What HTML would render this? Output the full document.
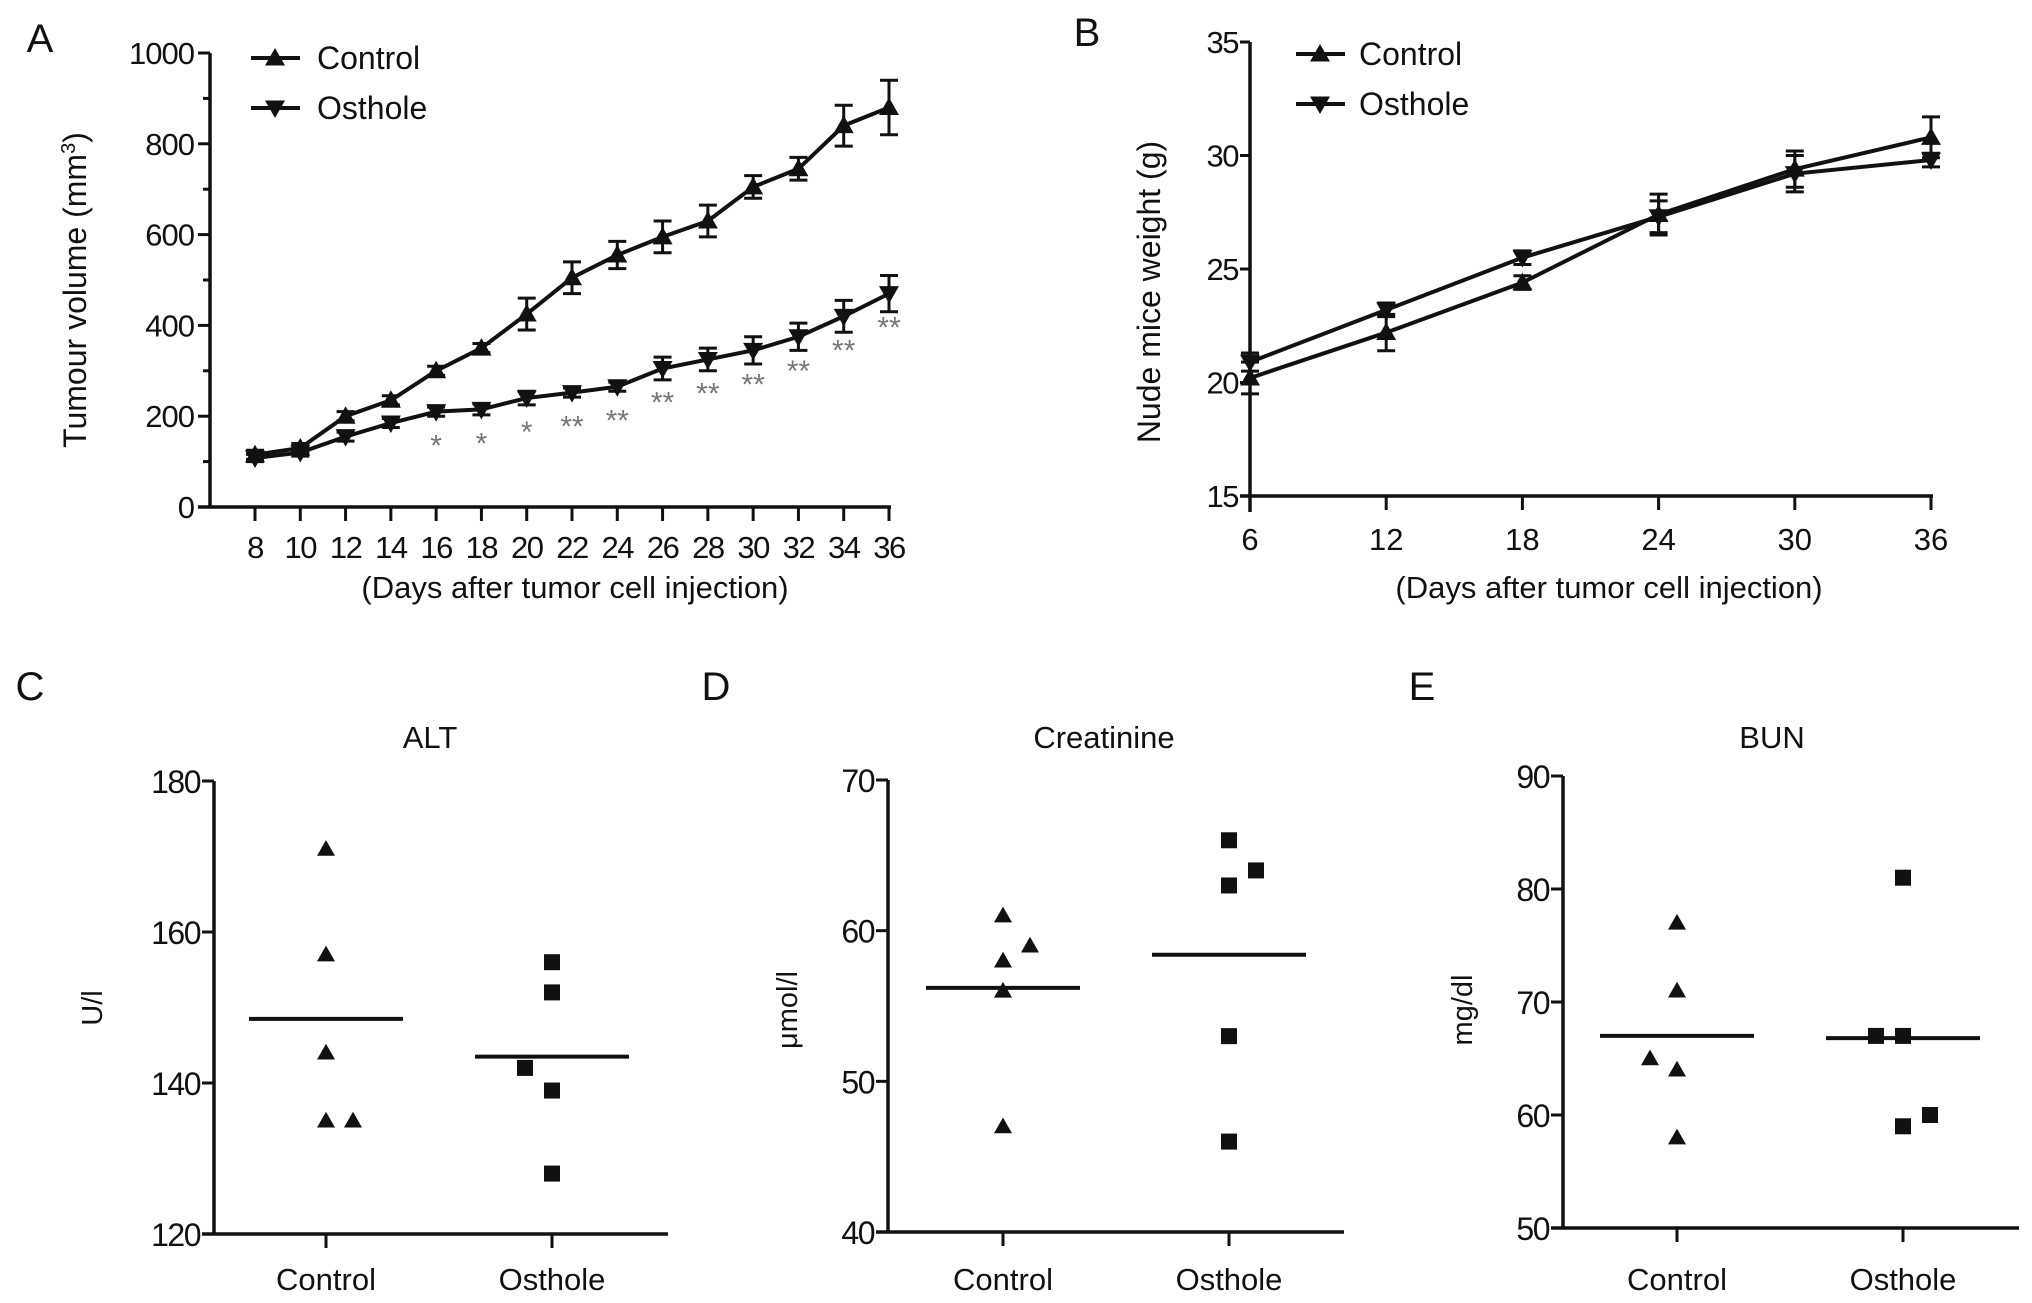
<!DOCTYPE html>
<html><head><meta charset="utf-8"><style>
html,body{margin:0;padding:0;background:#fff;}
svg{display:block;font-family:"Liberation Sans",sans-serif;}
</style></head><body>
<svg id="fig" width="2032" height="1303" viewBox="0 0 2032 1303" xmlns="http://www.w3.org/2000/svg"></svg>
<script>
// Panel A data
const aDays=[8,10,12,14,16,18,20,22,24,26,28,30,32,34,36];
const aControl=[115,130,200,235,300,350,425,505,555,595,630,705,745,840,880];
const aControlErr=[10,10,10,10,10,10,35,35,30,35,35,25,25,45,60];
const aOsthole=[108,120,155,185,210,215,240,252,265,305,325,345,375,420,470];
const aOstholeErr=[8,8,10,10,10,12,15,10,10,25,25,30,30,35,40];
const aStars=["","","","","*","*","*","**","**","**","**","**","**","**","**"];
const aYTicks=[0,200,400,600,800,1000];
// Panel B data
const bDays=[6,12,18,24,30,36];
const bControl=[20.2,22.2,24.4,27.4,29.4,30.8];
const bControlErr=[0.7,0.8,0.3,0.9,0.8,0.9];
const bOsthole=[20.9,23.2,25.5,27.3,29.2,29.8];
const bOstholeErr=[0.4,0.3,0.3,0.7,0.8,0.3];
const bYTicks=[15,20,25,30,35];
// Scatter panels
const cControl=[171,157,144,135,135];
const cOsthole=[156,152,142,139,128];
const cMeans=[148.5,143.5];
const dControl=[61,59,58,56,47];
const dOsthole=[66,64,63,53,46];
const dMeans=[56.2,58.4];
const eControl=[77,71,65,64,58];
const eOsthole=[81,67,67,59,60];
const eMeans=[67,66.8];

const NS="http://www.w3.org/2000/svg";
const svg=document.getElementById('fig');
function el(tag,attrs,parent){const e=document.createElementNS(NS,tag);for(const k in attrs)e.setAttribute(k,attrs[k]);(parent||svg).appendChild(e);return e;}
function txt(s,x,y,size,anchor,parent,extra){const t=el('text',Object.assign({x:x,y:y,'font-size':size,'text-anchor':anchor||'middle',fill:'#111'},extra||{}),parent);t.textContent=s;return t;}
function tri(cx,cy,up,g,s){s=s||9;const p=up?`${cx},${cy-s} ${cx-s},${cy+s*0.75} ${cx+s},${cy+s*0.75}`:`${cx},${cy+s} ${cx-s},${cy-s*0.75} ${cx+s},${cy-s*0.75}`;return el('polygon',{points:p,fill:'#111'},g);}

// ---------- Panel A ----------
(function(){
const g=el('g',{});


const x0=210,yb=507,yt=53;
const X=d=>255+(d-8)*(889-255)/28;
const Y=v=>yb-(v/1000)*(yb-yt);
txt('A',40,52,40,'middle',g);
el('line',{x1:x0,y1:yt,x2:x0,y2:yb,stroke:'#111','stroke-width':3.5},g);
el('line',{x1:x0-12,y1:yb,x2:X(36)+2,y2:yb,stroke:'#111','stroke-width':3.5},g);
for(let v=0;v<=1000;v+=100){const major=v%200===0;el('line',{x1:x0-(major?12:7),y1:Y(v),x2:x0,y2:Y(v),stroke:'#111','stroke-width':3},g);}
aYTicks.forEach(v=>{const t=txt(String(v),x0-16,Y(v)+11,31,'end',g,{'letter-spacing':'-1'});});
aDays.forEach(d=>{el('line',{x1:X(d),y1:yb,x2:X(d),y2:yb+14,stroke:'#111','stroke-width':3},g);const t=txt(String(d),X(d),558,31,'middle',g,{'letter-spacing':'-1.5'});});
const xt=txt('(Days after tumor cell injection)',575,598,31,'middle',g);

const yt2=el('text',{x:0,y:0,'font-size':32,'text-anchor':'middle',fill:'#111',transform:'translate(86,290) rotate(-90)'},g);

yt2.innerHTML='Tumour volume (mm<tspan dy="-11" font-size="20">3</tspan><tspan dy="11">)</tspan>';
function series(vals,errs,up,name){
  const pl=el('polyline',{points:aDays.map((d,i)=>X(d)+','+Y(vals[i])).join(' '),fill:'none',stroke:'#111','stroke-width':4},g);
  
  aDays.forEach((d,i)=>{const x=X(d),y1=Y(vals[i]-errs[i]),y2=Y(vals[i]+errs[i]);
    el('line',{x1:x,y1:y1,x2:x,y2:y2,stroke:'#111','stroke-width':3},g);
    el('line',{x1:x-9,y1:y1,x2:x+9,y2:y1,stroke:'#111','stroke-width':3},g);
    el('line',{x1:x-9,y1:y2,x2:x+9,y2:y2,stroke:'#111','stroke-width':3},g);
    const m=tri(x,Y(vals[i]),up,g,10);});
}
series(aControl,aControlErr,true,'a-control');
series(aOsthole,aOstholeErr,false,'a-osthole');
aDays.forEach((d,i)=>{if(!aStars[i])return;const t=txt(aStars[i],X(d),Y(aOsthole[i])+44,30,'middle',g,{fill:'#777'});});
// legend
const lg=el('g',{},g);
el('line',{x1:251,y1:58,x2:300,y2:58,stroke:'#111','stroke-width':4},lg);tri(275,58,true,lg,10);txt('Control',317,69,32,'start',lg);
el('line',{x1:251,y1:108,x2:300,y2:108,stroke:'#111','stroke-width':4},lg);tri(275,108,false,lg,10);txt('Osthole',317,119,32,'start',lg);
})();

// ---------- Panel B ----------
(function(){
const g=el('g',{});


const x0=1250,yb=496,yt=42;
const X=d=>1250+(d-6)*(1931-1250)/30;
const Y=v=>yb-(v-15)/20*(yb-yt);
txt('B',1087,46,40,'middle',g);
el('line',{x1:x0,y1:yt,x2:x0,y2:yb+16,stroke:'#111','stroke-width':3.5},g);
el('line',{x1:x0-10,y1:yb,x2:1933,y2:yb,stroke:'#111','stroke-width':3.5},g);
bYTicks.forEach(v=>{el('line',{x1:x0-10,y1:Y(v),x2:x0,y2:Y(v),stroke:'#111','stroke-width':3},g);const t=txt(String(v),x0-12,Y(v)+11,31,'end',g,{'letter-spacing':'-1.5'});});
bDays.forEach(d=>{el('line',{x1:X(d),y1:yb,x2:X(d),y2:yb+14,stroke:'#111','stroke-width':3},g);const t=txt(String(d),X(d),550,31,'middle',g);});
const xt=txt('(Days after tumor cell injection)',1609,598,31,'middle',g);
const yt2=txt('Nude mice weight (g)',0,0,32,'middle',g,{transform:'translate(1160,292) rotate(-90)'});
function series(vals,errs,up,name){
  const pl=el('polyline',{points:bDays.map((d,i)=>X(d)+','+Y(vals[i])).join(' '),fill:'none',stroke:'#111','stroke-width':4},g);
  
  bDays.forEach((d,i)=>{const x=X(d),y1=Y(vals[i]-errs[i]),y2=Y(vals[i]+errs[i]);
    el('line',{x1:x,y1:y1,x2:x,y2:y2,stroke:'#111','stroke-width':3},g);
    el('line',{x1:x-9,y1:y1,x2:x+9,y2:y1,stroke:'#111','stroke-width':3},g);
    el('line',{x1:x-9,y1:y2,x2:x+9,y2:y2,stroke:'#111','stroke-width':3},g);
    const m=tri(x,Y(vals[i]),up,g,10);});
}
series(bControl,bControlErr,true,'b-control');
series(bOsthole,bOstholeErr,false,'b-osthole');
const lg=el('g',{},g);
el('line',{x1:1296,y1:54,x2:1345,y2:54,stroke:'#111','stroke-width':4},lg);tri(1320,54,true,lg,10);txt('Control',1359,65,32,'start',lg);
el('line',{x1:1296,y1:104,x2:1345,y2:104,stroke:'#111','stroke-width':4},lg);tri(1320,104,false,lg,10);txt('Osthole',1359,115,32,'start',lg);
})();

// ---------- Scatter panels ----------
function scatter(o){
  const g=el('g',{});
  
  
  const Y=v=>o.yb-(v-o.min)/(o.max-o.min)*(o.yb-o.yt);
  txt(o.letter,o.lx,700,40,'middle',g);
  const tt=txt(o.title,o.tx,748,31,'middle',g);
  el('line',{x1:o.x0,y1:o.yt,x2:o.x0,y2:o.yb,stroke:'#111','stroke-width':3.5},g);
  el('line',{x1:o.x0-12,y1:o.yb,x2:o.xend,y2:o.yb,stroke:'#111','stroke-width':3.5},g);
  o.ticks.forEach(v=>{el('line',{x1:o.x0-12,y1:Y(v),x2:o.x0,y2:Y(v),stroke:'#111','stroke-width':3},g);const t=txt(String(v),o.x0-14,Y(v)+12,32,'end',g,{'letter-spacing':'-1.5'});});
  const yl=txt(o.ylab,0,0,29,'middle',g,{transform:`translate(${o.ylx},${o.yly}) rotate(-90)`});
  [o.cx,o.ox].forEach((x,i)=>{el('line',{x1:x,y1:o.yb,x2:x,y2:o.yb+14,stroke:'#111','stroke-width':3},g);const t=txt(i?'Osthole':'Control',x,1290,31,'middle',g);});
  o.control.forEach((v,i)=>{const m=tri(o.cx+(o.cOff[i]||0),Y(v),true,g,9);});
  o.osthole.forEach((v,i)=>{const m=el('rect',{x:o.ox+(o.oOff[i]||0)-8,y:Y(v)-8,width:16,height:16,fill:'#111'},g);});
  o.means.forEach((v,i)=>{const c=i?o.ox:o.cx;const m=el('line',{x1:c-77,y1:Y(v),x2:c+77,y2:Y(v),stroke:'#111','stroke-width':4},g);});
}
scatter({name:'panel-c-alt',letter:'C',lx:30,title:'ALT',tx:430,x0:214,xend:668,yt:781,yb:1234,min:120,max:180,ticks:[120,140,160,180],ylab:'U/l',ylx:102,yly:1008,cx:326,ox:552,control:cControl,osthole:cOsthole,means:cMeans,cOff:[0,0,0,0,27],oOff:[0,0,-27,0,0]});
scatter({name:'panel-d-creatinine',letter:'D',lx:716,title:'Creatinine',tx:1104,x0:888,xend:1344,yt:780,yb:1232,min:40,max:70,ticks:[40,50,60,70],ylab:'μmol/l',ylx:797,yly:1010,cx:1003,ox:1229,control:dControl,osthole:dOsthole,means:dMeans,cOff:[0,27,0,0,0],oOff:[0,27,0,0,0]});
scatter({name:'panel-e-bun',letter:'E',lx:1422,title:'BUN',tx:1772,x0:1563,xend:2019,yt:776,yb:1228,min:50,max:90,ticks:[50,60,70,80,90],ylab:'mg/dl',ylx:1472,yly:1010,cx:1677,ox:1903,control:eControl,osthole:eOsthole,means:eMeans,cOff:[0,0,-27,0,0],oOff:[0,-27,0,0,27]});
</script>
</body></html>
